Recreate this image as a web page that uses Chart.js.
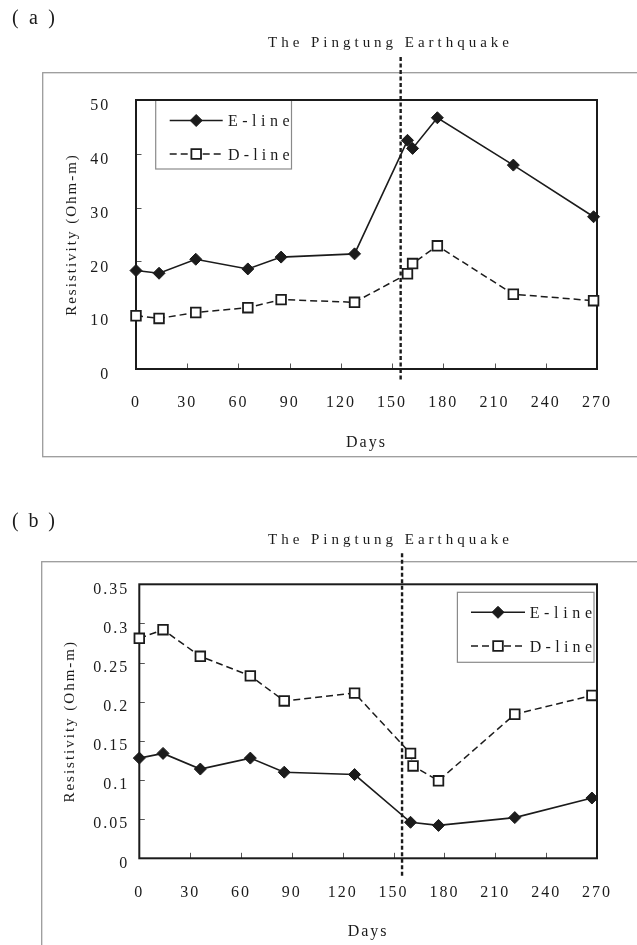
<!DOCTYPE html>
<html>
<head>
<meta charset="utf-8">
<title>Resistivity and the Pingtung Earthquake</title>
<script src="https://cdn.jsdelivr.net/npm/chart.js@4.4.1/dist/chart.umd.min.js"></script>
<style>
  html, body { margin: 0; padding: 0; background: #fff; }
  #wrap { position: relative; width: 637px; height: 945px; overflow: hidden; }
  canvas { position: absolute; left: 0; }
  #chartA { top: 0; }
  #chartB { top: 470px; }
</style>
</head>
<body>
<div id="wrap">
  <canvas id="chartA" width="637" height="470"></canvas>
  <canvas id="chartB" width="637" height="475"></canvas>
</div>
<script>
// (a) apparent resistivity, Ohm-m
const daysA  = [0, 13.5, 35, 65.5, 85, 128, 159, 162, 176.5, 221, 268];
const eLineA = [18.3, 17.8, 20.4, 18.6, 20.8, 21.4, 42.5, 41.0, 46.7, 37.9, 28.3];
const dLineA = [9.9, 9.4, 10.5, 11.4, 12.9, 12.4, 17.7, 19.6, 22.9, 13.9, 12.7];

// (b) second station, E-line has no reading on the extra day
const daysB  = [0, 14, 36, 65.5, 85.5, 127, 160, 161.5, 176.5, 221.5, 267];
const eLineB = [0.128, 0.134, 0.114, 0.128, 0.110, 0.107, 0.046, null, 0.042, 0.052, 0.077];
const dLineB = [0.281, 0.292, 0.258, 0.233, 0.201, 0.211, 0.134, 0.118, 0.099, 0.184, 0.208];

const quakeDay = 155;

const dayTicks = [0, 30, 60, 90, 120, 150, 180, 210, 240, 270];
const yTicksA  = [0, 10, 20, 30, 40, 50];
const yLabelsA = ['0', '10', '20', '30', '40', '50'];
const yTicksB  = [0, 0.05, 0.1, 0.15, 0.2, 0.25, 0.3, 0.35];
const yLabelsB = ['0', '0.05', '0.1', '0.15', '0.2', '0.25', '0.3', '0.35'];

const SERIF = '"Liberation Serif", "DejaVu Serif", serif';
const INK = '#1b1b1b';

Chart.defaults.font.family = SERIF;
Chart.defaults.color = INK;

// draw text stretched between two x positions by letter spacing
function fitText(ctx, text, left, right, baseline, size) {
  ctx.font = size + 'px ' + SERIF;
  ctx.letterSpacing = '0px';
  const natural = ctx.measureText(text).width;
  const gap = (right - left - natural) / Math.max(text.length - 1, 1);
  ctx.letterSpacing = gap + 'px';
  ctx.textAlign = 'left';
  ctx.textBaseline = 'alphabetic';
  ctx.fillStyle = INK;
  ctx.fillText(text, left, baseline);
}

function drawMarker(ctx, ds, x, y) {
  const r = ds.pointRadius;
  ctx.beginPath();
  if (ds.pointStyle === 'rectRot') {
    ctx.moveTo(x - r, y);
    ctx.lineTo(x, y - r);
    ctx.lineTo(x + r, y);
    ctx.lineTo(x, y + r);
  } else {
    const h = r * Math.SQRT1_2;
    ctx.rect(x - h, y - h, 2 * h, 2 * h);
  }
  ctx.closePath();
  ctx.fillStyle = ds.pointBackgroundColor;
  ctx.fill();
  ctx.lineWidth = ds.pointBorderWidth;
  ctx.strokeStyle = ds.pointBorderColor;
  ctx.stroke();
}

const figureFrame = {
  id: 'figureFrame',
  beforeLayout(chart) {
    chart.ctx.letterSpacing = '2px';
  },
  beforeDraw(chart, args, o) {
    const ctx = chart.ctx;
    const f = o.frame;
    ctx.save();
    ctx.strokeStyle = '#9b9b9b';
    ctx.lineWidth = 1.3;
    ctx.strokeRect(f.left, f.top, f.right - f.left, f.bottom - f.top);
    ctx.restore();
    ctx.letterSpacing = '2px';
  },
  beforeDatasetsDraw(chart, args, o) {
    const {ctx, chartArea: a} = chart;
    const x = chart.scales.x, y = chart.scales.y;
    ctx.save();
    // small inward tick marks
    ctx.strokeStyle = '#555';
    ctx.lineWidth = 1;
    ctx.beginPath();
    x.ticks.forEach(t => {
      const px = Math.round(x.getPixelForValue(t.value)) + 0.5;
      ctx.moveTo(px, a.bottom);
      ctx.lineTo(px, a.bottom - 5.5);
    });
    y.ticks.forEach(t => {
      const py = Math.round(y.getPixelForValue(t.value)) + 0.5;
      ctx.moveTo(a.left, py);
      ctx.lineTo(a.left + 5.5, py);
    });
    ctx.stroke();

    // legend box
    const lg = o.legend;
    ctx.fillStyle = '#fff';
    ctx.fillRect(lg.left, lg.top, lg.right - lg.left, lg.bottom - lg.top);
    ctx.strokeStyle = '#8a8a8a';
    ctx.lineWidth = 1.2;
    ctx.strokeRect(lg.left, lg.top, lg.right - lg.left, lg.bottom - lg.top);
    chart.data.datasets.forEach((ds, i) => {
      const yy = lg.rows[i];
      ctx.strokeStyle = ds.borderColor;
      ctx.lineWidth = ds.borderWidth;
      ctx.setLineDash(ds.borderDash || []);
      ctx.beginPath();
      ctx.moveTo(lg.lineFrom, yy);
      ctx.lineTo(lg.lineTo, yy);
      ctx.stroke();
      ctx.setLineDash([]);
      drawMarker(ctx, ds, (lg.lineFrom + lg.lineTo) / 2, yy);
      fitText(ctx, ds.label, lg.textLeft, lg.textRight, yy + 5.5, 16);
    });

    // plot border
    ctx.strokeStyle = INK;
    ctx.lineWidth = 2;
    ctx.strokeRect(a.left, a.top, a.right - a.left, a.bottom - a.top);
    ctx.restore();
  },
  afterDatasetsDraw(chart, args, o) {
    const ctx = chart.ctx;
    const px = chart.scales.x.getPixelForValue(o.quakeDay);
    ctx.save();
    ctx.strokeStyle = INK;
    ctx.lineWidth = 2.4;
    ctx.setLineDash([4, 2.5]);
    ctx.beginPath();
    ctx.moveTo(px, o.quakeTop);
    ctx.lineTo(px, o.quakeBottom);
    ctx.stroke();
    ctx.restore();
  },
  afterDraw(chart, args, o) {
    const ctx = chart.ctx;
    ctx.save();
    fitText(ctx, o.panel, 12, 55, o.panelBaseline, 20);
    fitText(ctx, 'The Pingtung Earthquake', 268, 509, o.titleBaseline, 15);
    ctx.restore();
  }
};

function series(days, values) {
  return days.map((d, i) => ({ x: d, y: values[i] }));
}

function makeDatasets(days, e, d) {
  return [
    {
      label: 'E-line', data: series(days, e),
      borderColor: INK, borderWidth: 1.6,
      pointStyle: 'rectRot', pointRadius: 6,
      pointBackgroundColor: INK, pointBorderColor: INK, pointBorderWidth: 1,
      spanGaps: true, clip: false
    },
    {
      label: 'D-line', data: series(days, d),
      borderColor: INK, borderWidth: 1.5, borderDash: [7, 4],
      pointStyle: 'rect', pointRadius: 6.8,
      pointBackgroundColor: '#fff', pointBorderColor: INK, pointBorderWidth: 1.8,
      spanGaps: true, clip: false
    }
  ];
}

function makeChart(id, cfg) {
  return new Chart(document.getElementById(id), {
    type: 'line',
    data: { datasets: makeDatasets(cfg.days, cfg.e, cfg.d) },
    options: {
      responsive: false,
      animation: false,
      events: [],
      layout: { padding: cfg.padding },
      scales: {
        x: {
          type: 'linear', min: 0, max: 270,
          afterBuildTicks: s => { s.ticks = dayTicks.map(v => ({ value: v })); },
          afterFit: s => { s.height = cfg.xHeight; },
          grid: { display: false, drawTicks: false },
          border: { display: false },
          ticks: { font: { size: 16 }, color: INK, padding: cfg.xPad, maxRotation: 0, autoSkip: false },
          title: { display: true, text: 'Days', font: { size: 16 }, color: INK, padding: { top: 0, bottom: cfg.daysPad } }
        },
        y: {
          type: 'linear', min: 0, max: cfg.yMax,
          afterBuildTicks: s => { s.ticks = cfg.yTicks.map(v => ({ value: v })); },
          afterFit: s => { s.width = cfg.yWidth; },
          grid: { display: false, drawTicks: false },
          border: { display: false },
          ticks: {
            font: { size: 16 }, color: INK, padding: cfg.yPad, labelOffset: cfg.yShift, autoSkip: false,
            callback: (v, i) => cfg.yLabels[i]
          },
          title: { display: true, text: 'Resistivity (Ohm-m)', font: { size: 15 }, color: INK, padding: { top: cfg.yTitlePad, bottom: 0 } }
        }
      },
      plugins: {
        legend: { display: false },
        tooltip: { enabled: false },
        figureFrame: {
          panel: cfg.panel, panelBaseline: cfg.panelBaseline, titleBaseline: cfg.titleBaseline,
          frame: cfg.frame, legend: cfg.legend,
          quakeDay: quakeDay, quakeTop: cfg.quakeTop, quakeBottom: cfg.quakeBottom
        }
      }
    },
    plugins: [figureFrame]
  });
}

makeChart('chartA', {
  days: daysA, e: eLineA, d: dLineA,
  yMax: 50, yTicks: yTicksA, yLabels: yLabelsA,
  padding: { left: 42, right: 40, top: 100, bottom: 16 },
  xHeight: 85, yWidth: 94,
  xPad: 24, yPad: 25.7, yShift: 6, daysPad: 2.1, yTitlePad: 21.5,
  panel: '(a)', panelBaseline: 23.6, titleBaseline: 47.3,
  frame: { left: 42.7, top: 72.7, right: 660, bottom: 456.7 },
  legend: { left: 155.7, top: 100, right: 291.5, bottom: 169, rows: [120.5, 154],
            lineFrom: 169.7, lineTo: 222.7, textLeft: 228, textRight: 289.5 },
  quakeTop: 57, quakeBottom: 380
});

makeChart('chartB', {
  days: daysB, e: eLineB, d: dLineB,
  yMax: 0.35, yTicks: yTicksB, yLabels: yLabelsB,
  padding: { left: 42, right: 36.3, top: 114.3, bottom: 1 },
  xHeight: 85.7, yWidth: 97.3,
  xPad: 25, yPad: 10, yShift: 5, daysPad: 2.8, yTitlePad: 19,
  panel: '(b)', panelBaseline: 57, titleBaseline: 73.5,
  frame: { left: 41.7, top: 91.7, right: 660, bottom: 500 },
  legend: { left: 457.4, top: 122.3, right: 594, bottom: 192.3, rows: [142.3, 176],
            lineFrom: 471, lineTo: 525, textLeft: 529.7, textRight: 592 },
  quakeTop: 83.3, quakeBottom: 406.7
});
</script>
</body>
</html>
